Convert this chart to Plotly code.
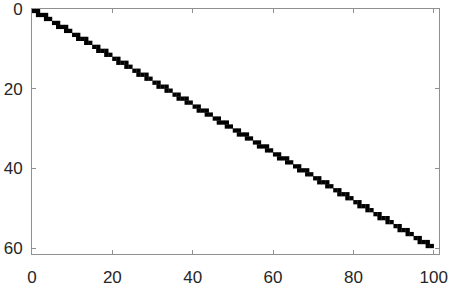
import plotly.graph_objects as go

# Sparsity pattern: for each row, first and last nonzero column
row_ids = list(range(1, 61))
col_start = [1, 2, 4, 6, 7, 9, 11, 12, 14, 16, 17, 19, 21, 22, 24, 26, 27, 29, 31, 32,
             34, 36, 37, 39, 41, 42, 44, 46, 47, 49, 51, 52, 54, 56, 57, 59, 61, 62, 64, 66,
             67, 69, 71, 72, 74, 76, 77, 79, 81, 82, 84, 86, 87, 89, 91, 92, 94, 96, 97, 99]
col_end = [2, 4, 5, 7, 9, 10, 12, 14, 15, 17, 19, 20, 22, 24, 25, 27, 29, 30, 32, 34,
           35, 37, 39, 40, 42, 44, 45, 47, 49, 50, 52, 54, 55, 57, 59, 60, 62, 64, 65, 67,
           69, 70, 72, 74, 75, 77, 79, 80, 82, 84, 85, 87, 89, 90, 92, 94, 95, 97, 99, 100]

x_ticks = [0, 20, 40, 60, 80, 100]
y_ticks = [0, 20, 40, 60]
n_cols = 100
n_rows = 60

# each nonzero is drawn as a unit cell centred at (col-0.5, row-0.5)
xs, ys = [], []
for r, a, b in zip(row_ids, col_start, col_end):
    for c in range(a, b + 1):
        xs.append(c - 0.5)
        ys.append(r - 0.5)

fig = go.Figure(go.Scatter(
    x=xs, y=ys, mode="markers",
    marker=dict(symbol="square", size=4.3, color="black", line=dict(width=0)),
    hoverinfo="skip",
))

axis_common = dict(
    showline=True, mirror="ticks", linecolor="#909090", linewidth=1,
    ticks="inside", ticklen=4, tickcolor="#909090", tickwidth=1,
    showgrid=False, zeroline=False, automargin=False,
    ticklabeloverflow="allow",
    tickfont=dict(family="Liberation Sans, Arial, sans-serif", size=17, color="#262626"),
)

fig.update_xaxes(range=[0, n_cols + 1.3], tickvals=x_ticks, ticklabelstandoff=8, **axis_common)
fig.update_yaxes(range=[n_rows + 1.5, 0], tickvals=y_ticks, ticklabelstandoff=5, **axis_common)

fig.update_layout(
    width=451, height=288,
    margin=dict(l=32, r=12, t=9, b=34, autoexpand=False),
    paper_bgcolor="white", plot_bgcolor="white",
    showlegend=False,
)

fig.write_html("out.html")
